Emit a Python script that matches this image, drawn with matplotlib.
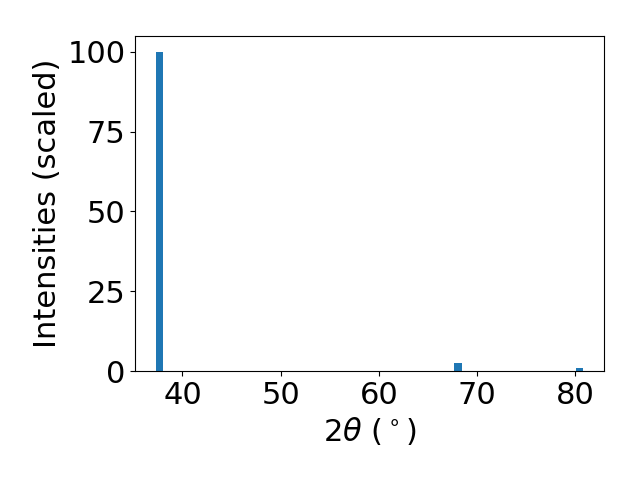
import matplotlib
matplotlib.use('Agg')
import matplotlib.pyplot as plt

# ピーク位置と強度
two_theta = [37.7, 68.05, 80.4]
intensity = [100.0, 2.6, 1.0]

plt.rcParams['font.size'] = 22

fig, ax = plt.subplots(figsize=(6.4, 4.8), dpi=100)
ax.bar(two_theta, intensity, width=0.72, color='tab:blue')
ax.set_xlabel(r'$2\theta$ ($^\circ$)')
ax.set_ylabel('Intensities (scaled)')
ax.set_xticks([40, 50, 60, 70, 80])
ax.set_yticks([0, 25, 50, 75, 100])

fig.subplots_adjust(left=0.211, right=0.944, bottom=0.227, top=0.925)
fig.savefig('out.png')
